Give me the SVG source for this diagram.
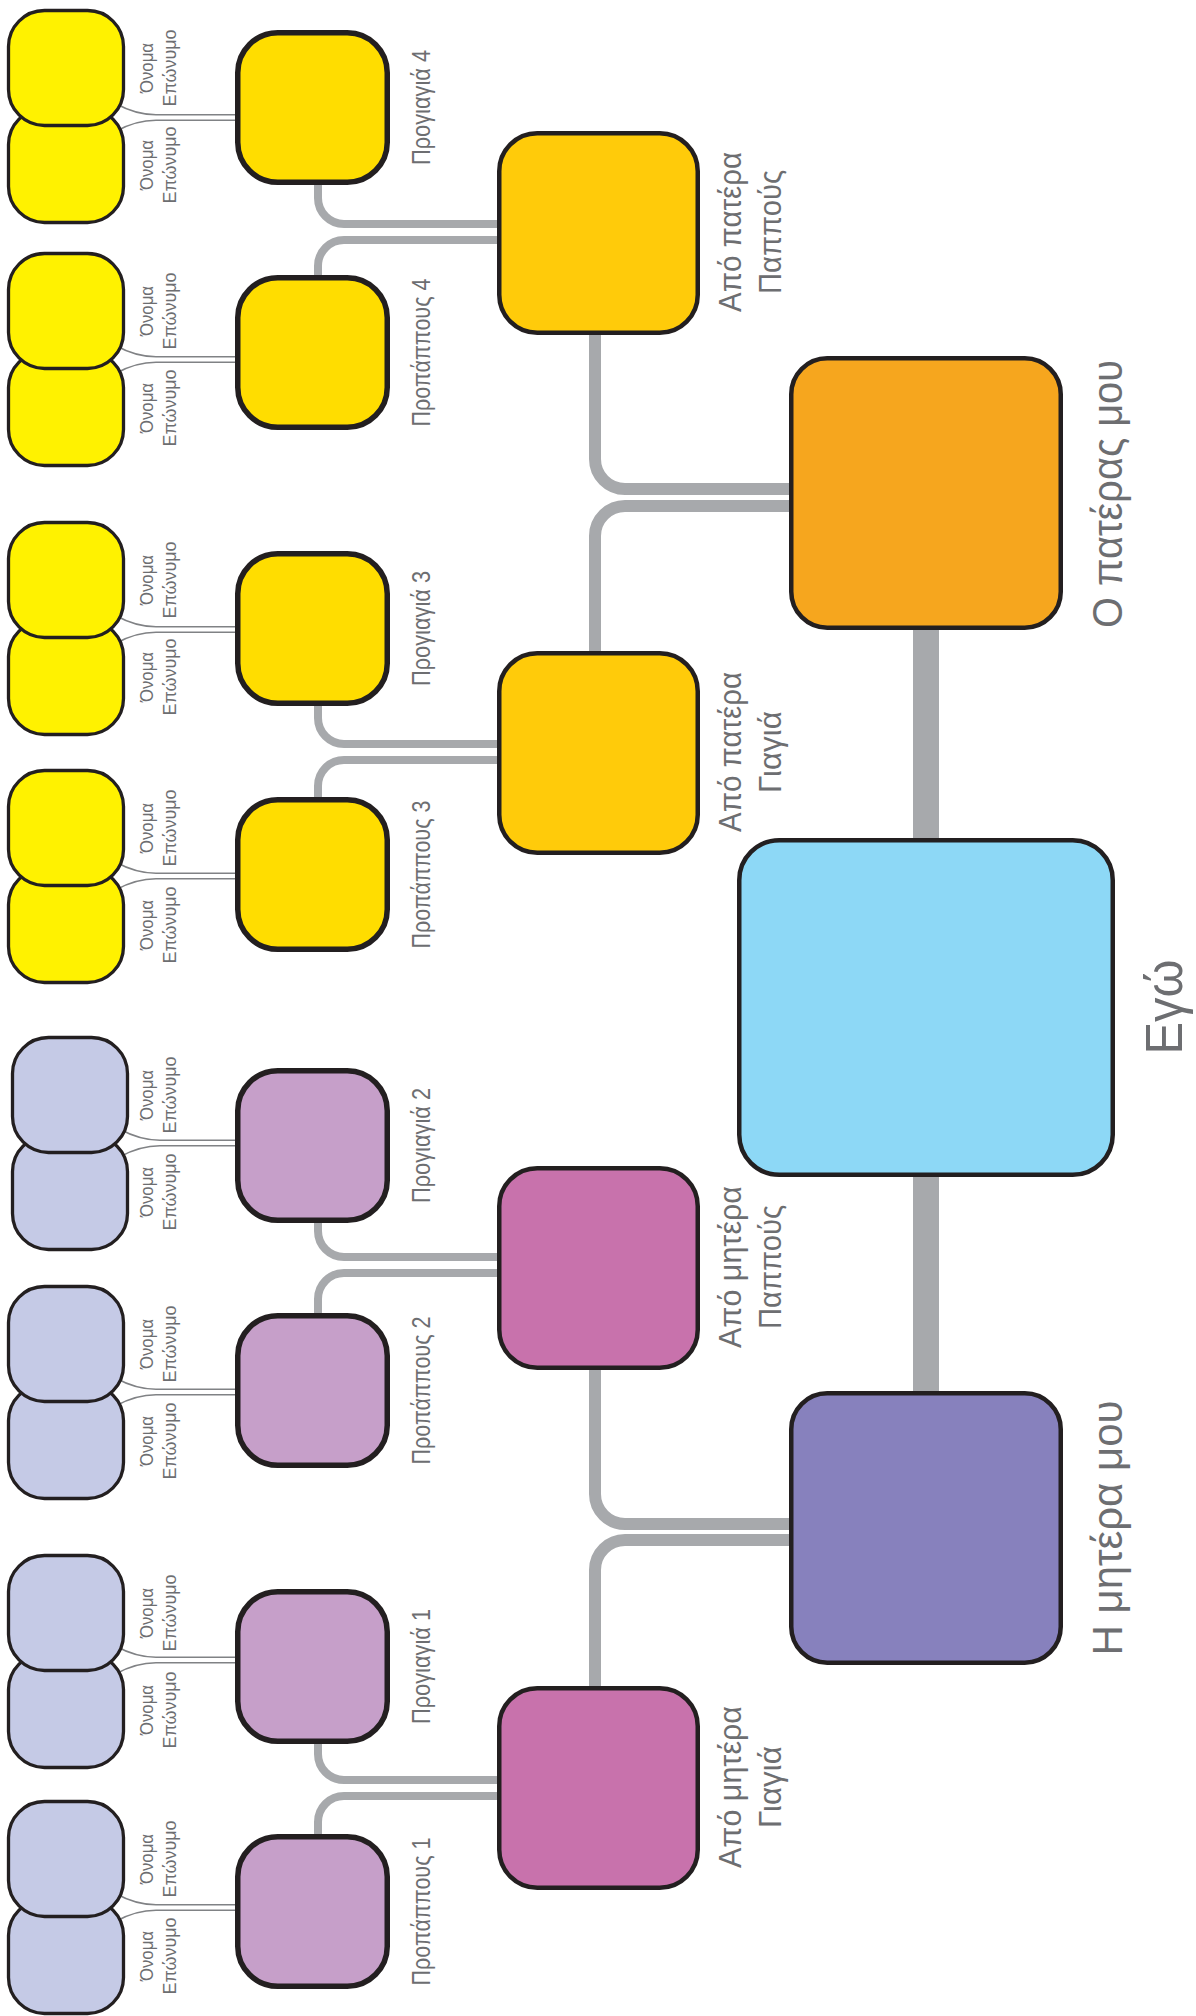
<svg xmlns="http://www.w3.org/2000/svg" width="1196" height="2016" viewBox="0 0 1196 2016">
<style>
text{font-family:"Liberation Sans","DejaVu Sans",sans-serif;fill:#6D6E71;text-anchor:middle}
.sm{font-size:18px}
.gg{font-size:25px}
.gp{font-size:31px}
.pa{font-size:42px}
.me{font-size:52px}
.n{stroke:#231F20}
.sy{fill:#FFF200;stroke-width:3.3}
.sb{fill:#C5CAE6;stroke-width:3.3}
.ggy{fill:#FFDD00;stroke-width:5.5}
.ggp{fill:#C69FC9;stroke-width:5.5}
.gy{fill:#FFCB0A;stroke-width:4.5}
.gpk{fill:#C872AC;stroke-width:4.5}
.thin{fill:none;stroke:#808285;stroke-width:1.6}
.t8{fill:none;stroke:#A7A9AC;stroke-width:8}
.t12{fill:none;stroke:#A7A9AC;stroke-width:12}
.t26{fill:none;stroke:#A7A9AC;stroke-width:26}
</style>
<rect width="1196" height="2016" fill="#FFFFFF"/>
<g id="connectors">
<path class="thin" d="M116 103.75 Q136 114.75 156 114.75 H245 M116 131.25 Q136 120.25 156 120.25 H245"/>
<path class="thin" d="M116 345.75 Q136 356.75 156 356.75 H245 M116 373.25 Q136 362.25 156 362.25 H245"/>
<path class="thin" d="M116 615.75 Q136 626.75 156 626.75 H245 M116 643.25 Q136 632.25 156 632.25 H245"/>
<path class="thin" d="M116 862.25 Q136 873.25 156 873.25 H245 M116 889.75 Q136 878.75 156 878.75 H245"/>
<path class="thin" d="M120 1129.25 Q140 1140.25 160 1140.25 H245 M120 1156.75 Q140 1145.75 160 1145.75 H245"/>
<path class="thin" d="M116 1378.25 Q136 1389.25 156 1389.25 H245 M116 1405.75 Q136 1394.75 156 1394.75 H245"/>
<path class="thin" d="M116 1646.25 Q136 1657.25 156 1657.25 H245 M116 1673.75 Q136 1662.75 156 1662.75 H245"/>
<path class="thin" d="M116 1893.75 Q136 1904.75 156 1904.75 H245 M116 1921.25 Q136 1910.25 156 1910.25 H245"/>
<path class="t8" d="M318 150 V198 A26 26 0 0 0 344 224 H520 M318 320 V266 A26 26 0 0 1 344 240 H520"/>
<path class="t8" d="M318 680 V718 A26 26 0 0 0 344 744 H520 M318 830 V786 A26 26 0 0 1 344 760 H520"/>
<path class="t8" d="M318 1200 V1231 A26 26 0 0 0 344 1257 H520 M318 1340 V1299 A26 26 0 0 1 344 1273 H520"/>
<path class="t8" d="M318 1720 V1754 A26 26 0 0 0 344 1780 H520 M318 1860 V1822 A26 26 0 0 1 344 1796 H520"/>
<path class="t12" d="M595 300 V459 A30 30 0 0 0 625 489 H810 M595 680 V536 A30 30 0 0 1 625 506 H810"/>
<path class="t12" d="M595 1340 V1494 A30 30 0 0 0 625 1524 H810 M595 1720 V1570 A30 30 0 0 1 625 1540 H810"/>
<path class="t26" d="M926 600 V860 M926 1150 V1420"/>
</g>
<g id="p4a">
<rect class="n sy" x="8.5" y="108.5" width="115" height="114" rx="36"/>
<rect class="n sy" x="8.5" y="10.5" width="115" height="115" rx="36"/>
<text class="sm" transform="translate(153,68) rotate(-90)" textLength="50" lengthAdjust="spacingAndGlyphs">Όνομα</text>
<text class="sm" transform="translate(176,68) rotate(-90)" textLength="77" lengthAdjust="spacingAndGlyphs">Επώνυμο</text>
<text class="sm" transform="translate(153,165) rotate(-90)" textLength="50" lengthAdjust="spacingAndGlyphs">Όνομα</text>
<text class="sm" transform="translate(176,165) rotate(-90)" textLength="77" lengthAdjust="spacingAndGlyphs">Επώνυμο</text>
</g>
<g id="p4b">
<rect class="n sy" x="8.5" y="351.5" width="115" height="114" rx="36"/>
<rect class="n sy" x="8.5" y="253.5" width="115" height="115" rx="36"/>
<text class="sm" transform="translate(153,311) rotate(-90)" textLength="50" lengthAdjust="spacingAndGlyphs">Όνομα</text>
<text class="sm" transform="translate(176,311) rotate(-90)" textLength="77" lengthAdjust="spacingAndGlyphs">Επώνυμο</text>
<text class="sm" transform="translate(153,408) rotate(-90)" textLength="50" lengthAdjust="spacingAndGlyphs">Όνομα</text>
<text class="sm" transform="translate(176,408) rotate(-90)" textLength="77" lengthAdjust="spacingAndGlyphs">Επώνυμο</text>
</g>
<g id="p3a">
<rect class="n sy" x="8.5" y="620.5" width="115" height="114" rx="36"/>
<rect class="n sy" x="8.5" y="522.5" width="115" height="115" rx="36"/>
<text class="sm" transform="translate(153,580) rotate(-90)" textLength="50" lengthAdjust="spacingAndGlyphs">Όνομα</text>
<text class="sm" transform="translate(176,580) rotate(-90)" textLength="77" lengthAdjust="spacingAndGlyphs">Επώνυμο</text>
<text class="sm" transform="translate(153,677) rotate(-90)" textLength="50" lengthAdjust="spacingAndGlyphs">Όνομα</text>
<text class="sm" transform="translate(176,677) rotate(-90)" textLength="77" lengthAdjust="spacingAndGlyphs">Επώνυμο</text>
</g>
<g id="p3b">
<rect class="n sy" x="8.5" y="868.5" width="115" height="114" rx="36"/>
<rect class="n sy" x="8.5" y="770.5" width="115" height="115" rx="36"/>
<text class="sm" transform="translate(153,828) rotate(-90)" textLength="50" lengthAdjust="spacingAndGlyphs">Όνομα</text>
<text class="sm" transform="translate(176,828) rotate(-90)" textLength="77" lengthAdjust="spacingAndGlyphs">Επώνυμο</text>
<text class="sm" transform="translate(153,925) rotate(-90)" textLength="50" lengthAdjust="spacingAndGlyphs">Όνομα</text>
<text class="sm" transform="translate(176,925) rotate(-90)" textLength="77" lengthAdjust="spacingAndGlyphs">Επώνυμο</text>
</g>
<g id="p2a">
<rect class="n sb" x="12.5" y="1135.5" width="115" height="114" rx="36"/>
<rect class="n sb" x="12.5" y="1037.5" width="115" height="115" rx="36"/>
<text class="sm" transform="translate(153,1095) rotate(-90)" textLength="50" lengthAdjust="spacingAndGlyphs">Όνομα</text>
<text class="sm" transform="translate(176,1095) rotate(-90)" textLength="77" lengthAdjust="spacingAndGlyphs">Επώνυμο</text>
<text class="sm" transform="translate(153,1192) rotate(-90)" textLength="50" lengthAdjust="spacingAndGlyphs">Όνομα</text>
<text class="sm" transform="translate(176,1192) rotate(-90)" textLength="77" lengthAdjust="spacingAndGlyphs">Επώνυμο</text>
</g>
<g id="p2b">
<rect class="n sb" x="8.5" y="1384.5" width="115" height="114" rx="36"/>
<rect class="n sb" x="8.5" y="1286.5" width="115" height="115" rx="36"/>
<text class="sm" transform="translate(153,1344) rotate(-90)" textLength="50" lengthAdjust="spacingAndGlyphs">Όνομα</text>
<text class="sm" transform="translate(176,1344) rotate(-90)" textLength="77" lengthAdjust="spacingAndGlyphs">Επώνυμο</text>
<text class="sm" transform="translate(153,1441) rotate(-90)" textLength="50" lengthAdjust="spacingAndGlyphs">Όνομα</text>
<text class="sm" transform="translate(176,1441) rotate(-90)" textLength="77" lengthAdjust="spacingAndGlyphs">Επώνυμο</text>
</g>
<g id="p1a">
<rect class="n sb" x="8.5" y="1653.5" width="115" height="114" rx="36"/>
<rect class="n sb" x="8.5" y="1555.5" width="115" height="115" rx="36"/>
<text class="sm" transform="translate(153,1613) rotate(-90)" textLength="50" lengthAdjust="spacingAndGlyphs">Όνομα</text>
<text class="sm" transform="translate(176,1613) rotate(-90)" textLength="77" lengthAdjust="spacingAndGlyphs">Επώνυμο</text>
<text class="sm" transform="translate(153,1710) rotate(-90)" textLength="50" lengthAdjust="spacingAndGlyphs">Όνομα</text>
<text class="sm" transform="translate(176,1710) rotate(-90)" textLength="77" lengthAdjust="spacingAndGlyphs">Επώνυμο</text>
</g>
<g id="p1b">
<rect class="n sb" x="8.5" y="1899.5" width="115" height="114" rx="36"/>
<rect class="n sb" x="8.5" y="1801.5" width="115" height="115" rx="36"/>
<text class="sm" transform="translate(153,1859) rotate(-90)" textLength="50" lengthAdjust="spacingAndGlyphs">Όνομα</text>
<text class="sm" transform="translate(176,1859) rotate(-90)" textLength="77" lengthAdjust="spacingAndGlyphs">Επώνυμο</text>
<text class="sm" transform="translate(153,1956) rotate(-90)" textLength="50" lengthAdjust="spacingAndGlyphs">Όνομα</text>
<text class="sm" transform="translate(176,1956) rotate(-90)" textLength="77" lengthAdjust="spacingAndGlyphs">Επώνυμο</text>
</g>
<g id="gg4a"><rect class="n ggy" x="237.75" y="32.75" width="149.5" height="149.5" rx="40"/>
<text class="gg" transform="translate(430,107.5) rotate(-90)" textLength="115" lengthAdjust="spacingAndGlyphs">Προγιαγιά 4</text></g>
<g id="gg4b"><rect class="n ggy" x="237.75" y="277.75" width="149.5" height="149.5" rx="40"/>
<text class="gg" transform="translate(430,352.5) rotate(-90)" textLength="148" lengthAdjust="spacingAndGlyphs">Προπάππους 4</text></g>
<g id="gg3a"><rect class="n ggy" x="237.75" y="553.75" width="149.5" height="149.5" rx="40"/>
<text class="gg" transform="translate(430,628.5) rotate(-90)" textLength="115" lengthAdjust="spacingAndGlyphs">Προγιαγιά 3</text></g>
<g id="gg3b"><rect class="n ggy" x="237.75" y="799.75" width="149.5" height="149.5" rx="40"/>
<text class="gg" transform="translate(430,874.5) rotate(-90)" textLength="148" lengthAdjust="spacingAndGlyphs">Προπάππους 3</text></g>
<g id="gg2a"><rect class="n ggp" x="237.75" y="1070.75" width="149.5" height="149.5" rx="40"/>
<text class="gg" transform="translate(430,1145.5) rotate(-90)" textLength="115" lengthAdjust="spacingAndGlyphs">Προγιαγιά 2</text></g>
<g id="gg2b"><rect class="n ggp" x="237.75" y="1315.75" width="149.5" height="149.5" rx="40"/>
<text class="gg" transform="translate(430,1390.5) rotate(-90)" textLength="148" lengthAdjust="spacingAndGlyphs">Προπάππους 2</text></g>
<g id="gg1a"><rect class="n ggp" x="237.75" y="1591.75" width="149.5" height="149.5" rx="40"/>
<text class="gg" transform="translate(430,1666.5) rotate(-90)" textLength="115" lengthAdjust="spacingAndGlyphs">Προγιαγιά 1</text></g>
<g id="gg1b"><rect class="n ggp" x="237.75" y="1836.75" width="149.5" height="149.5" rx="40"/>
<text class="gg" transform="translate(430,1911.5) rotate(-90)" textLength="148" lengthAdjust="spacingAndGlyphs">Προπάππους 1</text></g>
<g id="g4"><rect class="n gy" x="499.25" y="133.25" width="198.5" height="199.5" rx="38"/>
<text class="gp" transform="translate(741,232) rotate(-90)" textLength="160" lengthAdjust="spacingAndGlyphs">Από πατέρα</text>
<text class="gp" transform="translate(781,232) rotate(-90)" textLength="124" lengthAdjust="spacingAndGlyphs">Παππούς</text></g>
<g id="g3"><rect class="n gy" x="499.25" y="653.25" width="198.5" height="199.5" rx="38"/>
<text class="gp" transform="translate(741,752) rotate(-90)" textLength="160" lengthAdjust="spacingAndGlyphs">Από πατέρα</text>
<text class="gp" transform="translate(781,752) rotate(-90)" textLength="82" lengthAdjust="spacingAndGlyphs">Γιαγιά</text></g>
<g id="g2"><rect class="n gpk" x="499.25" y="1168.25" width="198.5" height="199.5" rx="38"/>
<text class="gp" transform="translate(741,1267) rotate(-90)" textLength="162" lengthAdjust="spacingAndGlyphs">Από μητέρα</text>
<text class="gp" transform="translate(781,1267) rotate(-90)" textLength="124" lengthAdjust="spacingAndGlyphs">Παππούς</text></g>
<g id="g1"><rect class="n gpk" x="499.25" y="1688.25" width="198.5" height="199.5" rx="38"/>
<text class="gp" transform="translate(741,1787) rotate(-90)" textLength="162" lengthAdjust="spacingAndGlyphs">Από μητέρα</text>
<text class="gp" transform="translate(781,1787) rotate(-90)" textLength="82" lengthAdjust="spacingAndGlyphs">Γιαγιά</text></g>
<g id="father"><rect class="n" fill="#F6A61E" stroke-width="4.5" x="791.25" y="358.25" width="269.5" height="269.5" rx="36"/>
<text class="pa" transform="translate(1122,494) rotate(-90)" textLength="268" lengthAdjust="spacingAndGlyphs">Ο πατέρας μου</text></g>
<g id="mother"><rect class="n" fill="#8781BD" stroke-width="4.5" x="791.25" y="1393.25" width="269.5" height="269.5" rx="36"/>
<text class="pa" transform="translate(1122,1528) rotate(-90)" textLength="255" lengthAdjust="spacingAndGlyphs">Η μητέρα μου</text></g>
<g id="me"><rect class="n" fill="#8DD8F6" stroke-width="4.5" x="739.25" y="840.25" width="373.5" height="334.5" rx="40"/>
<text class="me" transform="translate(1182,1007) rotate(-90)" textLength="95" lengthAdjust="spacingAndGlyphs">Εγώ</text></g>
</svg>
